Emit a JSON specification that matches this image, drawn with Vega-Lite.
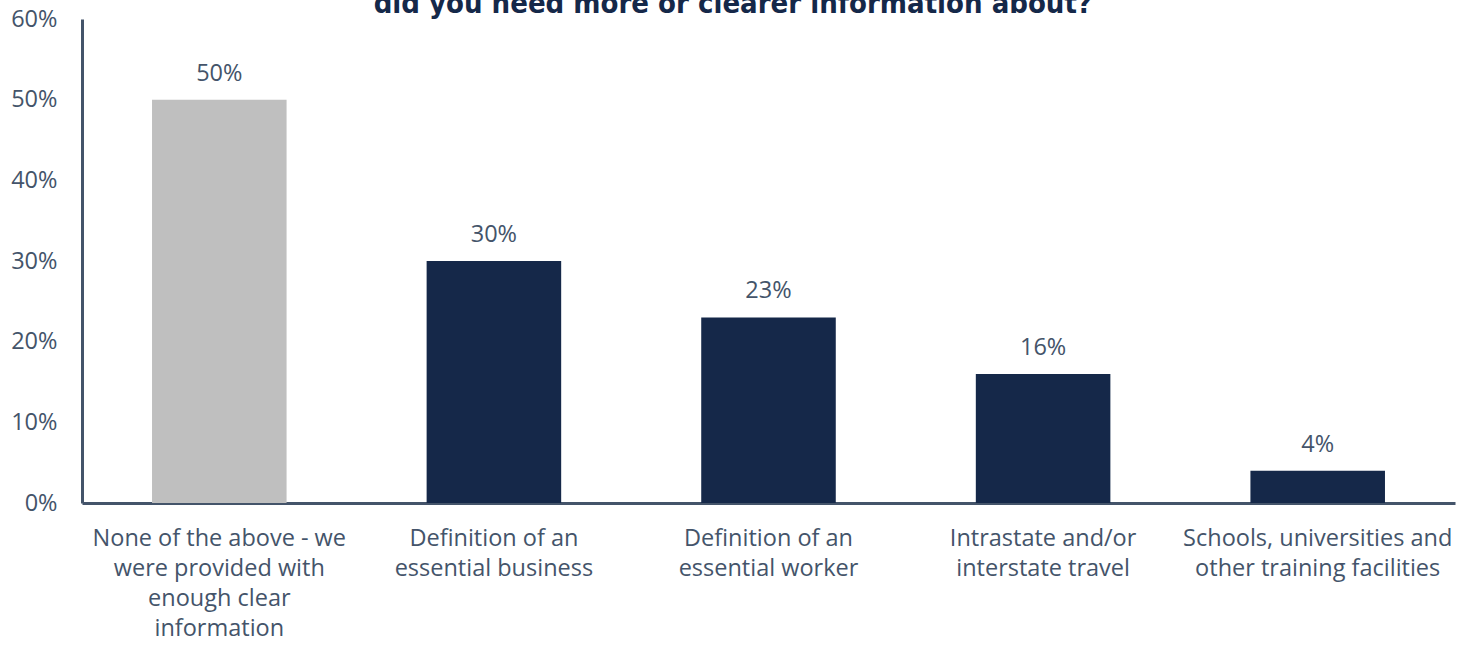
{
  "$schema": "https://vega.github.io/schema/vega-lite/v6.json",
  "width": 1373,
  "height": 484,
  "autosize": {"type": "none"},
  "padding": {"left": 82, "top": 19, "right": 20, "bottom": 145},
  "background": "white",
  "config": {"view": {"stroke": null}},
  "title": {
    "text": "did you need more or clearer information about?",
    "font": "DejaVu Sans Condensed",
    "fontWeight": "bold",
    "fontSize": 29,
    "color": "#152849",
    "anchor": "middle",
    "frame": "bounds",
    "baseline": "alphabetic",
    "offset": -35
  },
  "data": {
    "values": [
      {"label": "None of the above - we|were provided with|enough clear|information", "value": 0.5, "group": "none"},
      {"label": "Definition of an|essential business", "value": 0.3, "group": "item"},
      {"label": "Definition of an|essential worker", "value": 0.23, "group": "item"},
      {"label": "Intrastate and/or|interstate travel", "value": 0.16, "group": "item"},
      {"label": "Schools, universities and|other training facilities", "value": 0.04, "group": "item"}
    ]
  },
  "encoding": {
    "x": {
      "field": "label",
      "type": "nominal",
      "sort": null,
      "scale": {"paddingInner": 0.51, "paddingOuter": 0.255},
      "axis": {
        "title": null,
        "labelAngle": 0,
        "labelExpr": "split(datum.value, '|')",
        "labelFont": "Open Sans",
        "labelFontSize": 23.5,
        "labelColor": "#44546a",
        "labelLineHeight": 30,
        "labelPadding": 23,
        "ticks": false,
        "domainColor": "#44546a",
        "domainWidth": 3,
        "labelLimit": 400
      }
    },
    "y": {
      "field": "value",
      "type": "quantitative",
      "scale": {"domain": [0, 0.6]},
      "axis": {
        "title": null,
        "values": [0, 0.1, 0.2, 0.3, 0.4, 0.5, 0.6],
        "format": ".0%",
        "labelFont": "Open Sans",
        "labelFontSize": 23.5,
        "labelColor": "#44546a",
        "labelPadding": 25,
        "ticks": false,
        "grid": false,
        "domainColor": "#44546a",
        "domainWidth": 3
      }
    }
  },
  "layer": [
    {
      "mark": {"type": "bar"},
      "encoding": {
        "color": {
          "field": "group",
          "type": "nominal",
          "scale": {"domain": ["none", "item"], "range": ["#bfbfbf", "#152849"]},
          "legend": null
        }
      }
    },
    {
      "mark": {"type": "text", "font": "Open Sans", "fontSize": 23.5, "color": "#44546a", "baseline": "alphabetic", "dy": -19},
      "encoding": {
        "text": {"field": "value", "type": "quantitative", "format": ".0%"}
      }
    }
  ]
}
